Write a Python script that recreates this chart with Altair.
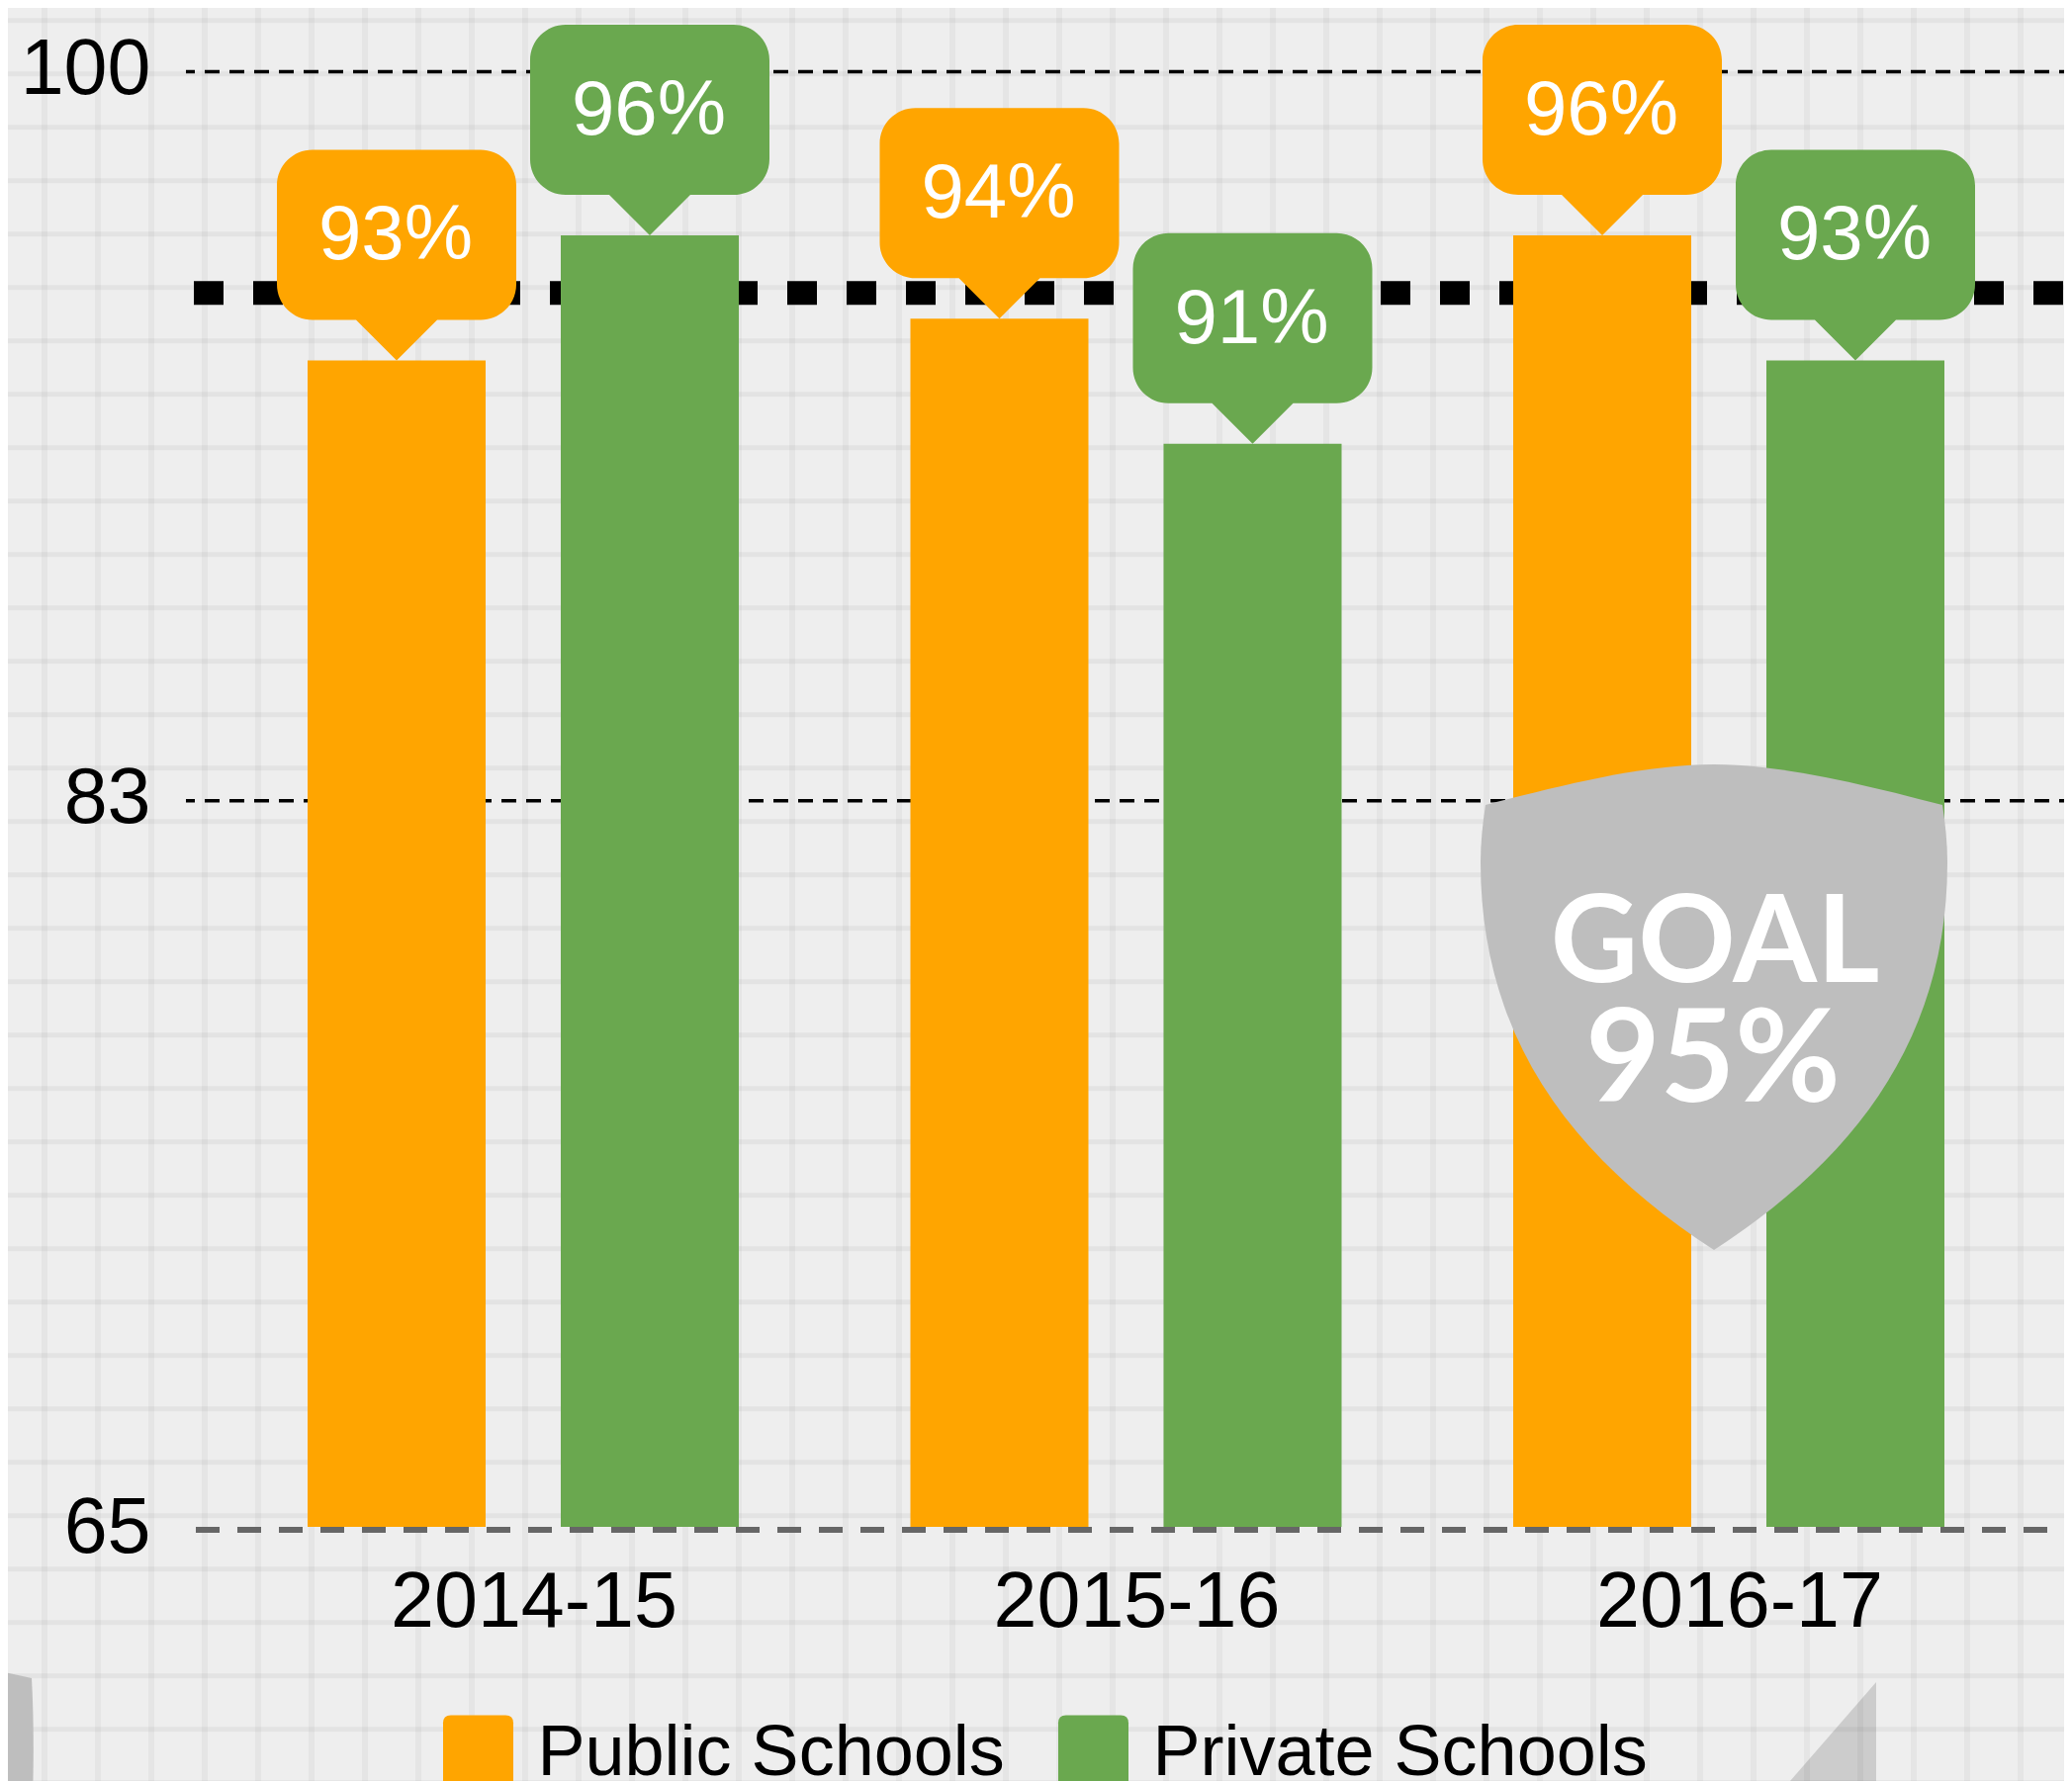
import altair as alt
import pandas as pd

# --- chart values ---
years = ["2014-15", "2015-16", "2016-17"]
series_names = ["Public Schools", "Private Schools"]
public_values = [93, 94, 96]
private_values = [96, 91, 93]
axis_ticks = [65, 82.5, 100]
goal_value = [95]
goal_lines = ["GOAL", "95%"]

W, H = 2079, 1793
colors = ["#FFA500", "#6AA84F"]
FONT = "Liberation Sans"

rows = []
for i, y in enumerate(years):
    rows.append({"year": y, "school": series_names[0], "value": public_values[i]})
    rows.append({"year": y, "school": series_names[1], "value": private_values[i]})
df = pd.DataFrame(rows)
df["label"] = df["value"].astype(str) + "%"

x_scale = alt.Scale(domain=years, range=[216.25, 2044.75], paddingInner=0, paddingOuter=0)
off_scale = alt.Scale(domain=series_names, paddingInner=0.297, paddingOuter=0.339)
y_scale = alt.Scale(domain=[65, 100], range=[1536, 61.5], nice=False, zero=False)
color_scale = alt.Scale(domain=series_names, range=colors)

x_axis = alt.Axis(offset=-257, labelFontSize=79, labelFont=FONT, labelColor="#000", labelLimit=600,
                  labelAngle=0, labelOffset=11, labelPadding=100, labelBaseline="alphabetic",
                  ticks=False, domain=False, grid=False, zindex=1)
y_axis = alt.Axis(values=axis_ticks, format=".0f", offset=-149, labelFontSize=79, labelFont=FONT, labelLimit=400,
                  labelColor="#000", labelPadding=5, labelOffset=1, ticks=False, domain=False, grid=False, zindex=1)

X = alt.X("year:N", scale=x_scale, sort=years, title=None, axis=x_axis)
XO = alt.XOffset("school:N", scale=off_scale, sort=series_names)
Y = alt.Y("value:Q", scale=y_scale, title=None, axis=y_axis)
Yr = alt.Y("v:Q", scale=y_scale, title=None, axis=y_axis)

# paper texture
grid_v = alt.Chart(pd.DataFrame({"px": [37 + 54 * k for k in range(39)]})).mark_rule(
    color="#000", opacity=0.035, strokeWidth=6).encode(x=alt.X("px:Q", scale=None, axis=None))
grid_h = alt.Chart(pd.DataFrame({"px": [12.7 + 54 * k for k in range(34)]})).mark_rule(
    color="#000", opacity=0.045, strokeWidth=5).encode(y=alt.Y("px:Q", scale=None, axis=None))

# decorations cropped by the page edge
one = pd.DataFrame({"a": [0]})
left_piece = alt.Chart(one).mark_point(
    shape="M-8 0 L24 7 Q27 60 25 130 L-8 130 Z", size=4, filled=True, opacity=1, color="#bebebe", strokeWidth=0
).encode(x=alt.value(0), y=alt.value(1682))
right_piece = alt.Chart(one).mark_point(
    shape="M0 0 L0 100 L-87 100 Z", size=4, filled=True, opacity=0.14, color="#000", strokeWidth=0
).encode(x=alt.value(1889), y=alt.value(1693))

# reference lines
upper = alt.Chart(pd.DataFrame({"v": [axis_ticks[2], axis_ticks[1]]})).mark_rule(
    color="#000", strokeWidth=3.5, strokeDash=[15, 10], strokeDashOffset=6, yOffset=3
).encode(y=Yr, x=alt.value(180), x2=alt.value(W))
base = alt.Chart(pd.DataFrame({"v": [axis_ticks[0]]})).mark_rule(
    color="#666666", strokeWidth=6, strokeDash=[24, 18], yOffset=3
).encode(y=Yr, x=alt.value(190), x2=alt.value(W))
goal = alt.Chart(pd.DataFrame({"v": goal_value})).mark_rule(
    color="#000", strokeWidth=24, strokeDash=[30, 30], yOffset=16
).encode(y=Yr, x=alt.value(188), x2=alt.value(W))

legend = alt.Legend(orient="none", legendX=439.5, legendY=1729, direction="horizontal", title=None,
                    symbolType="M-1 -0.865 Q-1 -1.085 -0.78 -1.085 L0.78 -1.085 Q1 -1.085 1 -0.865 L1 0.915 L-1 0.915 Z",
                    symbolSize=5041, symbolStrokeWidth=0, symbolOpacity=1,
                    labelFontSize=72, labelFont=FONT, labelColor="#000", labelOffset=24,
                    labelLimit=800, columnPadding=53, offset=0, padding=0)

bars = alt.Chart(df).mark_bar(size=180, opacity=1).encode(
    x=X, xOffset=XO, y=Y, y2=alt.datum(65),
    color=alt.Color("school:N", scale=color_scale, sort=series_names, legend=legend),
)

CALLOUT = ("M0 0 L-41 -41 L-85 -41 A36 36 0 0 1 -121 -77 L-121 -177 A36 36 0 0 1 -85 -213 "
           "L85 -213 A36 36 0 0 1 121 -177 L121 -77 A36 36 0 0 1 85 -41 L41 -41 Z")
callouts = alt.Chart(df).mark_point(shape=CALLOUT, size=4, filled=True, opacity=1, strokeWidth=0).encode(
    x=X, xOffset=XO, y=Y,
    color=alt.Color("school:N", scale=color_scale, sort=series_names, legend=None),
)
callout_text = alt.Chart(df).mark_text(
    font=FONT, fontSize=78, color="#fff", align="center", baseline="alphabetic", dx=-1, dy=-102
).encode(x=X, xOffset=XO, y=Y, text="label:N")

# goal badge
SHIELD = ("M0 0 C-70 0 -150 20 -231 41 C-234 60 -236 80 -236 99 C-236 280 -140 400 0 491 "
          "C140 400 236 280 236 99 C236 80 234 60 231 41 C150 20 70 0 0 0 Z")
shield = alt.Chart(one).mark_point(shape=SHIELD, size=4, filled=True, opacity=1, color="#bebebe", strokeWidth=0
).encode(x=alt.value(1725), y=alt.value(765))
goal_t1 = alt.Chart(one).mark_text(text=goal_lines[0], font="Lato", fontWeight="bold", fontSize=122, color="#fff",
                                   align="center", baseline="alphabetic").encode(x=alt.value(1726), y=alt.value(985))
goal_t2 = alt.Chart(one).mark_text(text=goal_lines[1], font="Lato", fontWeight="bold", fontSize=130, color="#fff",
                                   align="center", baseline="alphabetic").encode(x=alt.value(1724), y=alt.value(1106))

chart = alt.layer(
    grid_v, grid_h, left_piece, right_piece, upper, base, goal,
    bars, callouts, callout_text, shield, goal_t1, goal_t2,
).properties(
    width=W, height=H, background="#eeeeee", padding=0,
    autosize=alt.AutoSizeParams(type="none"),
).configure_view(stroke=None)

chart.save("out.html", embed_options={"renderer": "svg", "actions": False})
